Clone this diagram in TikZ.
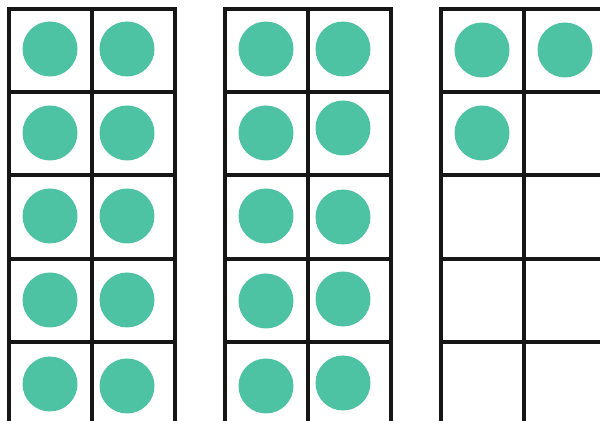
\documentclass[tikz,border=0pt]{standalone}
\usetikzlibrary{positioning}
\definecolor{DotGreen}{HTML}{4EC3A3}
\definecolor{GridInk}{HTML}{161616}
\begin{document}
\begin{tikzpicture}[x=0.02cm, y=-0.02cm, frame/.style={line width=2pt, color=GridInk, line cap=rect}, dot/.style={circle, fill=DotGreen, minimum size=1.1cm, inner sep=0pt}]
\useasboundingbox (0,0) rectangle (600,421);
\clip (0,0) rectangle (600,421);
% three ten frames, cut off at the bottom and on the right
\foreach \fx in {9,225,441}{
  \draw[frame] (\fx,9) rectangle ++(166,420);
  \draw[frame] (\fx+83,9) -- ++(0,420);
  \foreach \ry in {92,175,259,342} \draw[frame] (\fx,\ry) -- ++(166,0);
}
% frame one: ten dots
\node[dot] (a1) at (50,49) {}; \node[dot] (a2) at (127,49) {};
\node[dot] (a3) at (50,133) {}; \node[dot] (a4) at (127,133) {};
\node[dot] (a5) at (50,216) {}; \node[dot] (a6) at (127,216) {};
\node[dot] (a7) at (50,300) {}; \node[dot] (a8) at (127,300) {};
\node[dot] (a9) at (50,384) {}; \node[dot] (a10) at (127,386) {};
% frame two: ten dots
\node[dot] (b1) at (266,49) {}; \node[dot] (b2) at (343,49) {};
\node[dot] (b3) at (266,133) {}; \node[dot] (b4) at (343,128) {};
\node[dot] (b5) at (266,216) {}; \node[dot] (b6) at (343,217) {};
\node[dot] (b7) at (266,301) {}; \node[dot] (b8) at (343,299) {};
\node[dot] (b9) at (266,386) {}; \node[dot] (b10) at (343,383) {};
% frame three: three dots
\node[dot] (c1) at (482,50) {}; \node[dot] (c2) at (565,50) {};
\node[dot] (c3) at (482,133) {};
\end{tikzpicture}
\end{document}
